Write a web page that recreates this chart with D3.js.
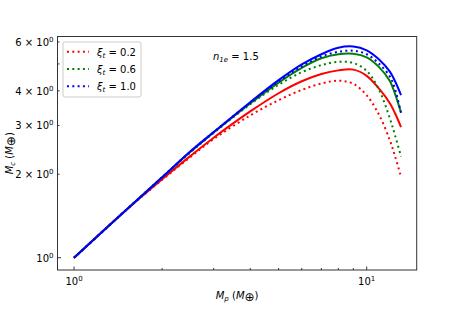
<!DOCTYPE html>
<html><head><meta charset="utf-8">
<script src="https://cdn.jsdelivr.net/npm/d3@7"></script>
<style>body{margin:0;background:#fff}svg{display:block}text{font-family:"DejaVu Sans",sans-serif}</style>
</head><body>
<svg id="c" width="463" height="309"></svg>
<script>
const mp = [1, 1.5, 2, 2.5, 3, 4, 5, 6, 7, 8, 9, 10, 11, 12, 12.5, 13.1];
const blueSolid   = [1, 1.48, 1.95, 2.42, 2.84, 3.64, 4.37, 4.98, 5.42, 5.72, 5.78, 5.60, 5.20, 4.69, 4.33, 3.86];
const blueDotted  = [1, 1.48, 1.95, 2.42, 2.84, 3.62, 4.32, 4.90, 5.32, 5.53, 5.58, 5.42, 5.02, 4.50, 4.05, 3.33];
const greenSolid  = [1, 1.48, 1.95, 2.41, 2.83, 3.60, 4.28, 4.84, 5.24, 5.42, 5.44, 5.28, 4.88, 4.34, 3.90, 3.34];
const greenDotted = [1, 1.48, 1.95, 2.40, 2.82, 3.58, 4.20, 4.67, 4.95, 5.09, 5.04, 4.72, 4.05, 3.18, 2.76, 2.32];
const redSolid    = [1, 1.48, 1.92, 2.33, 2.71, 3.37, 3.92, 4.33, 4.60, 4.74, 4.77, 4.53, 4.08, 3.61, 3.32, 2.96];
const redDotted   = [1, 1.48, 1.91, 2.31, 2.68, 3.26, 3.70, 4.03, 4.25, 4.35, 4.24, 3.85, 3.29, 2.65, 2.32, 1.96];
const xiLabels = ["0.2", "0.6", "1.0"];
const colors = ["#ff0000", "#008000", "#0000ff"];
const xMajor = [1, 10];
const xMinor = [2, 3, 4, 5, 6, 7, 8, 9];
const yMajor = [1];
const yMinor = [2, 3, 4, 5, 6];
const yMinorLabels = {2: "2", 3: "3", 4: "4", 6: "6"};

const svg = d3.select("#c");
const L = 57.5, R = 416.7, T = 36.5, B = 270;
const x = d3.scaleLog().domain([0.878, 14.82]).range([L, R]);
const y = d3.scaleLog().domain([0.903, 6.28]).range([B, T]);

const series = [
  {v: redDotted, c: colors[0], d: true},
  {v: redSolid, c: colors[0], d: false},
  {v: greenDotted, c: colors[1], d: true},
  {v: greenSolid, c: colors[1], d: false},
  {v: blueDotted, c: colors[2], d: true},
  {v: blueSolid, c: colors[2], d: false}
];
const line = d3.line().x(d => x(d[0])).y(d => y(d[1])).curve(d3.curveCatmullRom.alpha(0.5));
const g = svg.append("g");
series.forEach(s => {
  g.append("path").attr("d", line(mp.map((m, i) => [m, s.v[i]])))
    .attr("fill", "none").attr("stroke", s.c).attr("stroke-width", 2)
    .attr("stroke-dasharray", s.d ? "2,3.3" : null);
});

// ticks (inward)
const ax = svg.append("g").attr("stroke", "#000").attr("stroke-width", 0.8);
xMajor.forEach(v => { ax.append("line").attr("x1", x(v)).attr("x2", x(v)).attr("y1", B).attr("y2", B - 3.5); });
xMinor.forEach(v => { ax.append("line").attr("x1", x(v)).attr("x2", x(v)).attr("y1", B).attr("y2", B - 2); });
yMajor.forEach(v => { ax.append("line").attr("x1", L).attr("x2", L + 3.5).attr("y1", y(v)).attr("y2", y(v)); });
yMinor.forEach(v => { ax.append("line").attr("x1", L).attr("x2", L + 2).attr("y1", y(v)).attr("y2", y(v)); });
svg.append("rect").attr("x", L).attr("y", T).attr("width", R - L).attr("height", B - T)
  .attr("fill", "none").attr("stroke", "#333").attr("stroke-width", 1);

// tick labels
const fs = 10;
xMajor.forEach((v, i) => {
  const t = svg.append("text").attr("x", x(v)).attr("y", B + 15).attr("text-anchor", "middle").attr("font-size", fs);
  t.append("tspan").text("10");
  t.append("tspan").attr("dy", -4).attr("font-size", 7).text(String(i));
});
yMajor.forEach(v => {
  const t = svg.append("text").attr("x", L - 4).attr("y", y(v) + 4).attr("text-anchor", "end").attr("font-size", fs);
  t.append("tspan").text("10");
  t.append("tspan").attr("dy", -4).attr("font-size", 7).text("0");
});
yMinor.forEach(v => {
  if (!yMinorLabels[v]) return;
  const t = svg.append("text").attr("x", L - 4).attr("y", y(v) + 4).attr("text-anchor", "end").attr("font-size", fs);
  t.append("tspan").text(yMinorLabels[v] + " \u00d7 10");
  t.append("tspan").attr("dy", -4).attr("font-size", 7).text("0");
});

// axis labels
const xl = svg.append("text").attr("x", (L + R) / 2).attr("y", 299).attr("text-anchor", "middle").attr("font-size", fs);
xl.append("tspan").attr("font-style", "italic").text("M");
xl.append("tspan").attr("font-style", "italic").attr("font-size", 7).attr("dy", 2).text("p");
xl.append("tspan").attr("dy", -2).text(" (");
xl.append("tspan").attr("font-style", "italic").text("M");
xl.append("tspan").attr("font-size", 12).attr("dy", 2).text("\u2295");
xl.append("tspan").attr("dy", -2).text(")");

const yl = svg.append("text").attr("transform", `translate(13,${(T + B) / 2}) rotate(-90)`).attr("text-anchor", "middle").attr("font-size", fs);
yl.append("tspan").attr("font-style", "italic").text("M");
yl.append("tspan").attr("font-style", "italic").attr("font-size", 7).attr("dy", 2).text("c");
yl.append("tspan").attr("dy", -2).text(" (");
yl.append("tspan").attr("font-style", "italic").text("M");
yl.append("tspan").attr("font-size", 12).attr("dy", 2).text("\u2295");
yl.append("tspan").attr("dy", -2).text(")");

// annotation
const an = svg.append("text").attr("x", 213).attr("y", 60).attr("font-size", fs);
an.append("tspan").attr("font-style", "italic").text("n");
an.append("tspan").attr("font-size", 7).attr("dy", 2).attr("font-style", "italic").text("1e");
an.append("tspan").attr("dy", -2).text(" = 1.5");

// legend
const lg = svg.append("g");
lg.append("rect").attr("x", 63).attr("y", 42).attr("width", 78).attr("height", 55).attr("rx", 2)
  .attr("fill", "#fff").attr("fill-opacity", 0.8).attr("stroke", "#ccc").attr("stroke-width", 1);
xiLabels.forEach((lab, i) => {
  const yy = 51.7 + i * 17.3;
  lg.append("line").attr("x1", 67).attr("x2", 89).attr("y1", yy).attr("y2", yy)
    .attr("stroke", colors[i]).attr("stroke-width", 2).attr("stroke-dasharray", "2,3.3");
  const t = lg.append("text").attr("x", 97).attr("y", yy + 4).attr("font-size", fs);
  t.append("tspan").attr("font-style", "italic").text("\u03be");
  t.append("tspan").attr("font-style", "italic").attr("font-size", 7).attr("dy", 2).text("t");
  t.append("tspan").attr("dy", -2).text(" = " + lab);
});
</script>
</body></html>
